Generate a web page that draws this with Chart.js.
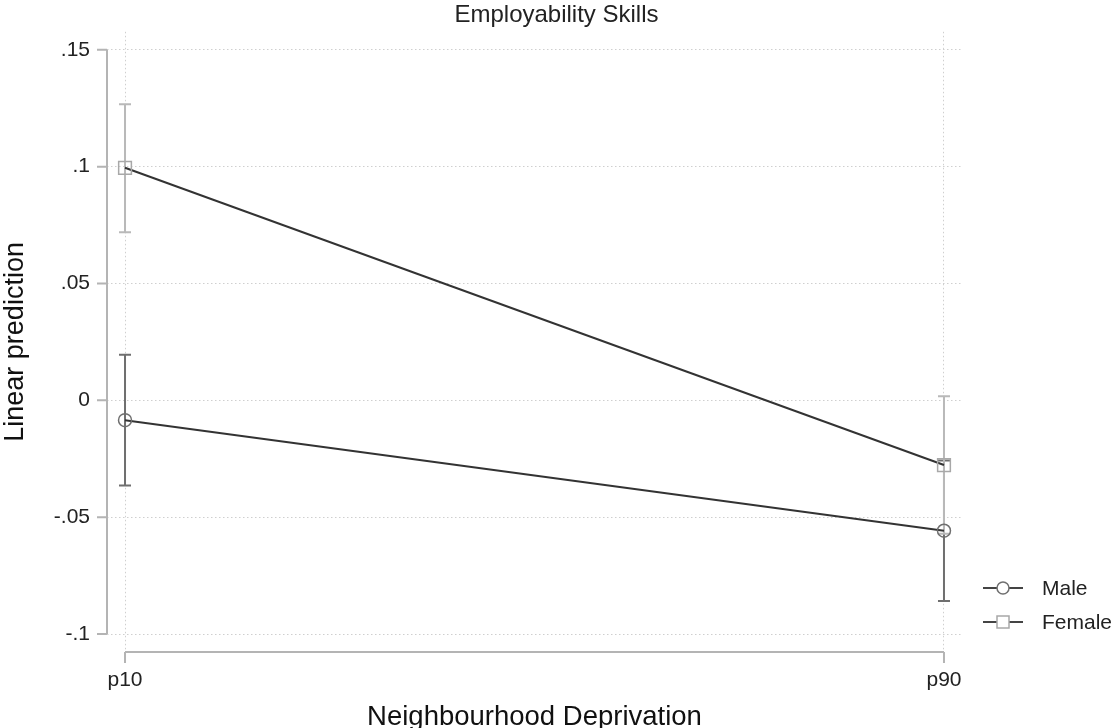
<!DOCTYPE html>
<html>
<head>
<meta charset="utf-8">
<title>Employability Skills</title>
<script src="https://cdn.jsdelivr.net/npm/chart.js@4/dist/chart.umd.min.js"></script>
<style>
  html, body { margin: 0; padding: 0; background: #fff; }
  #wrap { width: 1113px; height: 728px; }
</style>
</head>
<body>
<div id="wrap"><canvas id="marginsChart"></canvas></div>
<script>
// Data
const categories = [`p10`, `p90`];
const maleMean = [-0.0085, -0.0558];
const maleLower = [-0.0364, -0.0859];
const maleUpper = [0.0195, -0.0257];
const femaleMean = [0.0995, -0.0277];
const femaleLower = [0.0719, -0.0571];
const femaleUpper = [0.1267, 0.0017];
const yTicks = [-0.1, -0.05, 0, 0.05, 0.1, 0.15];
const yTickLabels = [`-.1`, `-.05`, `0`, `.05`, `.1`, `.15`];

Chart.defaults.font.family = `"Liberation Sans", Arial, Helvetica, sans-serif`;
Chart.defaults.color = `#222`;

const toPoints = arr => arr.map((v, i) => ({ x: i, y: v }));

// Error bars under the lines
const errorBars = {
  id: `errorBars`,
  beforeDatasetsDraw(chart) {
    const { ctx, scales: { x, y } } = chart;
    ctx.save();
    chart.data.datasets.forEach(ds => {
      ctx.strokeStyle = ds.errColor;
      ctx.lineWidth = 2;
      ds.errLow.forEach((lo, i) => {
        const px = x.getPixelForValue(i);
        const top = y.getPixelForValue(ds.errHigh[i]);
        const bot = y.getPixelForValue(lo);
        ctx.beginPath();
        ctx.moveTo(px, top); ctx.lineTo(px, bot);
        ctx.moveTo(px - 6, top); ctx.lineTo(px + 6, top);
        ctx.moveTo(px - 6, bot); ctx.lineTo(px + 6, bot);
        ctx.stroke();
      });
    });
    ctx.restore();
  }
};

// Stata style axis lines, only between first and last tick
const axisLines = {
  id: `axisLines`,
  beforeDatasetsDraw(chart) {
    const { ctx, chartArea, scales: { x, y } } = chart;
    ctx.save();
    ctx.strokeStyle = `#b4b4b4`;
    ctx.lineWidth = 2;
    ctx.beginPath();
    const yTop = y.getPixelForValue(yTicks[yTicks.length - 1]);
    const yBot = y.getPixelForValue(yTicks[0]);
    ctx.moveTo(chartArea.left, yTop); ctx.lineTo(chartArea.left, yBot);
    yTicks.forEach(v => {
      const py = y.getPixelForValue(v);
      ctx.moveTo(chartArea.left - 10, py); ctx.lineTo(chartArea.left, py);
    });
    const x0 = x.getPixelForValue(0);
    const x1 = x.getPixelForValue(categories.length - 1);
    ctx.moveTo(x0, chartArea.bottom); ctx.lineTo(x1, chartArea.bottom);
    categories.forEach((c, i) => {
      const px = x.getPixelForValue(i);
      ctx.moveTo(px, chartArea.bottom); ctx.lineTo(px, chartArea.bottom + 11);
    });
    ctx.stroke();
    ctx.restore();
  }
};

// Legend: line with marker, placed right of the plot
const sideLegend = {
  id: `sideLegend`,
  afterDraw(chart) {
    const { ctx, chartArea } = chart;
    ctx.save();
    chart.data.datasets.forEach((ds, i) => {
      const ly = chartArea.bottom - 64 + i * 34;
      const lx = chartArea.right + 21;
      ctx.strokeStyle = `#444`;
      ctx.lineWidth = 2;
      ctx.beginPath();
      ctx.moveTo(lx, ly); ctx.lineTo(lx + 40, ly);
      ctx.stroke();
      ctx.fillStyle = `#fff`;
      ctx.strokeStyle = ds.pointBorderColor;
      ctx.lineWidth = 1.5;
      const cx = lx + 20;
      if (ds.pointStyle === `circle`) {
        ctx.beginPath();
        ctx.arc(cx, ly, 6, 0, Math.PI * 2);
        ctx.fill(); ctx.stroke();
      } else {
        ctx.fillRect(cx - 6, ly - 6, 12, 12);
        ctx.strokeRect(cx - 6, ly - 6, 12, 12);
      }
      ctx.fillStyle = `#222`;
      ctx.font = `21px "Liberation Sans", Arial, sans-serif`;
      ctx.textBaseline = `middle`;
      ctx.fillText(ds.label, lx + 59, ly + 1);
    });
    ctx.restore();
  }
};

const ctx = document.getElementById(`marginsChart`);

new Chart(ctx, {
  type: `line`,
  data: {
    datasets: [{
      label: `Male`,
      data: toPoints(maleMean),
      errLow: maleLower,
      errHigh: maleUpper,
      errColor: `#6f6f6f`,
      borderColor: `#333`,
      borderWidth: 2,
      pointStyle: `circle`,
      pointRadius: 6.5,
      pointBorderWidth: 1.5,
      pointBorderColor: `#6f6f6f`,
      pointBackgroundColor: `rgba(255,255,255,0)`,
      fill: false
    }, {
      label: `Female`,
      data: toPoints(femaleMean),
      errLow: femaleLower,
      errHigh: femaleUpper,
      errColor: `#b9b9b9`,
      borderColor: `#333`,
      borderWidth: 2,
      pointStyle: `rect`,
      pointRadius: 9,
      pointBorderWidth: 1.5,
      pointBorderColor: `#a8a8a8`,
      pointBackgroundColor: `rgba(255,255,255,0)`,
      fill: false
    }]
  },
  options: {
    responsive: true,
    maintainAspectRatio: false,
    animation: false,
    plugins: {
      legend: { display: false },
      tooltip: { enabled: false },
      title: {
        display: true,
        text: `Employability Skills`,
        font: { size: 24, weight: `normal` },
        color: `#222`,
        padding: { top: 1, bottom: 2 }
      }
    },
    scales: {
      x: {
        type: `linear`,
        min: -0.022,
        max: 1.022,
        afterBuildTicks: scale => { scale.ticks = categories.map((c, i) => ({ value: i })); },
        afterFit: scale => { scale.height = 76; },
        ticks: {
          callback: (v, i) => categories[i],
          font: { size: 21 },
          color: `#222`,
          padding: 16,
          maxRotation: 0
        },
        grid: { color: `#cfcfcf`, lineWidth: 1, drawTicks: false },
        border: { display: false, dash: [1.5, 2.5] },
        title: {
          display: true,
          text: `Neighbourhood Deprivation`,
          font: { size: 27.5 },
          color: `#111`,
          padding: { top: 0, bottom: -5.5 }
        }
      },
      y: {
        type: `linear`,
        min: -0.1077,
        max: 0.1577,
        afterBuildTicks: scale => { scale.ticks = yTicks.map(v => ({ value: v })); },
        afterFit: scale => { scale.width = 107; },
        ticks: {
          callback: (v, i) => yTickLabels[i],
          font: { size: 21 },
          color: `#222`,
          padding: 17
        },
        grid: { color: `#cfcfcf`, lineWidth: 1, drawTicks: false },
        border: { display: false, dash: [1.5, 2.5] },
        title: {
          display: true,
          text: `Linear prediction`,
          font: { size: 27 },
          color: `#111`,
          padding: { top: -1, bottom: 0 }
        }
      },
      // empty axis on the right, only keeps room for the legend
      legendSpace: {
        type: `linear`,
        position: `right`,
        afterFit: scale => { scale.width = 151; },
        ticks: { display: false },
        grid: { display: false, drawTicks: false },
        border: { display: false }
      }
    }
  },
  plugins: [errorBars, axisLines, sideLegend]
});
</script>
</body>
</html>
